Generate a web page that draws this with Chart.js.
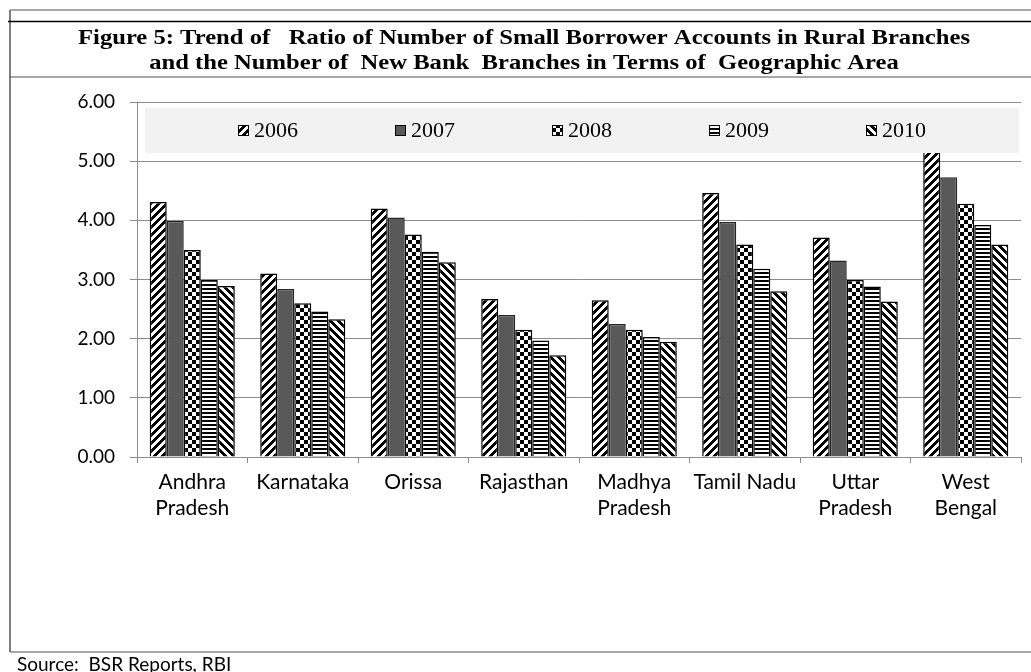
<!DOCTYPE html>
<html>
<head>
<meta charset="utf-8">
<script src="https://cdn.jsdelivr.net/npm/chart.js@4.4.1/dist/chart.umd.min.js"></script>
<style>
  html, body { margin: 0; padding: 0; background: #fff; }
  canvas { display: block; }
</style>
</head>
<body>
<canvas id="chart" width="1031" height="672"></canvas>
<script>
// values (ratio, per state and year)
const states = [["Andhra", "Pradesh"], "Karnataka", "Orissa", "Rajasthan", ["Madhya", "Pradesh"], "Tamil Nadu", ["Uttar", "Pradesh"], ["West", "Bengal"]];
const years = ["2006", "2007", "2008", "2009", "2010"];
const ratio2006 = [4.31, 3.10, 4.20, 2.67, 2.65, 4.46, 3.71, 5.30];
const ratio2007 = [3.99, 2.84, 4.05, 2.40, 2.25, 3.97, 3.32, 4.73];
const ratio2008 = [3.50, 2.60, 3.76, 2.15, 2.15, 3.59, 2.99, 4.28];
const ratio2009 = [2.99, 2.46, 3.47, 1.97, 2.03, 3.18, 2.88, 3.92];
const ratio2010 = [2.89, 2.33, 3.29, 1.72, 1.95, 2.80, 2.63, 3.59];
const yTicks = [0, 1, 2, 3, 4, 5, 6];

const titleLines = [
  "Figure 5: Trend of   Ratio of Number of Small Borrower Accounts in Rural Branches",
  "and the Number of  New Bank  Branches in Terms of  Geographic Area"
];
const sourceText = "Source:  BSR Reports, RBI";

const canvas = document.getElementById('chart');
const ctx = canvas.getContext('2d');

// builds an 8x8 black/white fill pattern, like the Excel pattern fills
function makePattern(isBlack) {
  const c = document.createElement('canvas');
  c.width = 8; c.height = 8;
  const g = c.getContext('2d');
  g.fillStyle = '#fff';
  g.fillRect(0, 0, 8, 8);
  g.fillStyle = '#000';
  for (let y = 0; y < 8; y++) {
    for (let x = 0; x < 8; x++) {
      if (isBlack(x, y)) g.fillRect(x, y, 1, 1);
    }
  }
  return ctx.createPattern(c, 'repeat');
}

const fills = [
  makePattern((x, y) => (x + y) % 8 < 4),                 // wide upward diagonal
  '#595959',                                              // solid
  makePattern((x, y) => ((x >> 2) + (y >> 2)) % 2 === 0), // large checker
  makePattern((x, y) => y % 4 < 2),                       // horizontal
  makePattern((x, y) => (x - y + 8) % 8 < 4)              // wide downward diagonal
];
const borders = ['#000', '#262626', '#000', '#000', '#000'];
const series = [ratio2006, ratio2007, ratio2008, ratio2009, ratio2010];

const gridGray = '#8c8c8c';

const framePlugin = {
  id: 'frame',
  beforeDraw(chart) {
    const c = chart.ctx;
    const w = chart.width;
    c.save();
    c.fillStyle = '#fff';
    c.fillRect(0, 0, w, chart.height);

    c.lineWidth = 1.5;
    c.strokeStyle = '#8c8c8c';
    c.beginPath();
    c.moveTo(10, 10); c.lineTo(w, 10);
    c.moveTo(10, 77); c.lineTo(w, 77);
    c.moveTo(10, 652); c.lineTo(w, 652);
    c.stroke();

    c.strokeStyle = '#555';
    c.beginPath();
    c.moveTo(10, 10); c.lineTo(10, 652);
    c.stroke();

    c.strokeStyle = '#000';
    c.beginPath();
    c.moveTo(8, 21.5); c.lineTo(w, 21.5);
    c.stroke();

    // title: stretched sideways to the width it has in the source figure
    c.fillStyle = '#000';
    c.textAlign = 'center';
    c.textBaseline = 'middle';
    c.font = 'bold 22px "Liberation Serif"';
    const sx = 892 / c.measureText(titleLines[0]).width;
    c.save();
    c.translate(524, 0);
    c.scale(sx, 1);
    c.fillText(titleLines[0], 0, 38);
    c.fillText(titleLines[1], 0, 63);
    c.restore();

    c.textAlign = 'left';
    c.font = '19px Lato';
    c.fillText(sourceText, 17, 665);
    c.restore();
  }
};

// legend sits inside the plot area on a grey band, over the bars
const legendPlugin = {
  id: 'legendBand',
  afterDatasetsDraw(chart) {
    const c = chart.ctx;
    const a = chart.chartArea;
    const left = a.left + 8, right = a.right - 2;
    const top = a.top + 6, bottom = a.top + 51;
    c.save();
    c.fillStyle = '#f2f2f2';
    c.fillRect(left, top, right - left, bottom - top);

    const mid = (left + right) / 2;
    const step = 157;
    const cy = (top + bottom) / 2;
    c.font = '22px "Liberation Serif"';
    c.textBaseline = 'middle';
    c.textAlign = 'left';
    chart.data.datasets.forEach((ds, i) => {
      const tw = c.measureText(ds.label).width;
      const itemW = 11 + 5 + tw;
      const x0 = mid + (i - 2) * step - itemW / 2;
      c.fillStyle = ds.backgroundColor;
      c.fillRect(x0, cy - 5.5, 11, 11);
      c.strokeStyle = '#000';
      c.lineWidth = 1;
      c.strokeRect(x0 + 0.5, cy - 5, 10, 10);
      c.fillStyle = '#000';
      c.fillText(ds.label, x0 + 16, cy + 1);
    });
    c.restore();
  }
};

new Chart(ctx, {
  type: 'bar',
  data: {
    labels: states,
    datasets: years.map((y, i) => ({
      label: y,
      data: series[i],
      backgroundColor: fills[i],
      borderColor: borders[i],
      borderWidth: 1.5,
      categoryPercentage: 0.77,
      barPercentage: 1.0
    }))
  },
  options: {
    responsive: false,
    animation: false,
    layout: { padding: { top: 102, left: 0, right: 10, bottom: 135 } },
    plugins: {
      legend: { display: false },
      title: { display: false },
      tooltip: { enabled: false }
    },
    scales: {
      y: {
        min: 0,
        max: 6,
        afterFit: s => { s.width = 137; },
        afterBuildTicks: s => { s.ticks = yTicks.map(v => ({ value: v })); },
        grid: { color: gridGray, lineWidth: 1, tickLength: 7 },
        border: { color: gridGray, width: 1 },
        ticks: {
          padding: 15,
          color: '#000',
          font: { family: 'Lato', size: 19 },
          callback: v => Number(v).toFixed(2)
        }
      },
      x: {
        afterFit: s => { s.height = 80; },
        grid: { offset: true, drawOnChartArea: false, color: gridGray, tickLength: 6 },
        border: { color: gridGray, width: 1 },
        ticks: {
          padding: 7,
          color: '#000',
          autoSkip: false,
          maxRotation: 0,
          font: { family: 'Lato', size: 21, lineHeight: 1.2 }
        }
      }
    }
  },
  plugins: [framePlugin, legendPlugin]
});
</script>
</body>
</html>
